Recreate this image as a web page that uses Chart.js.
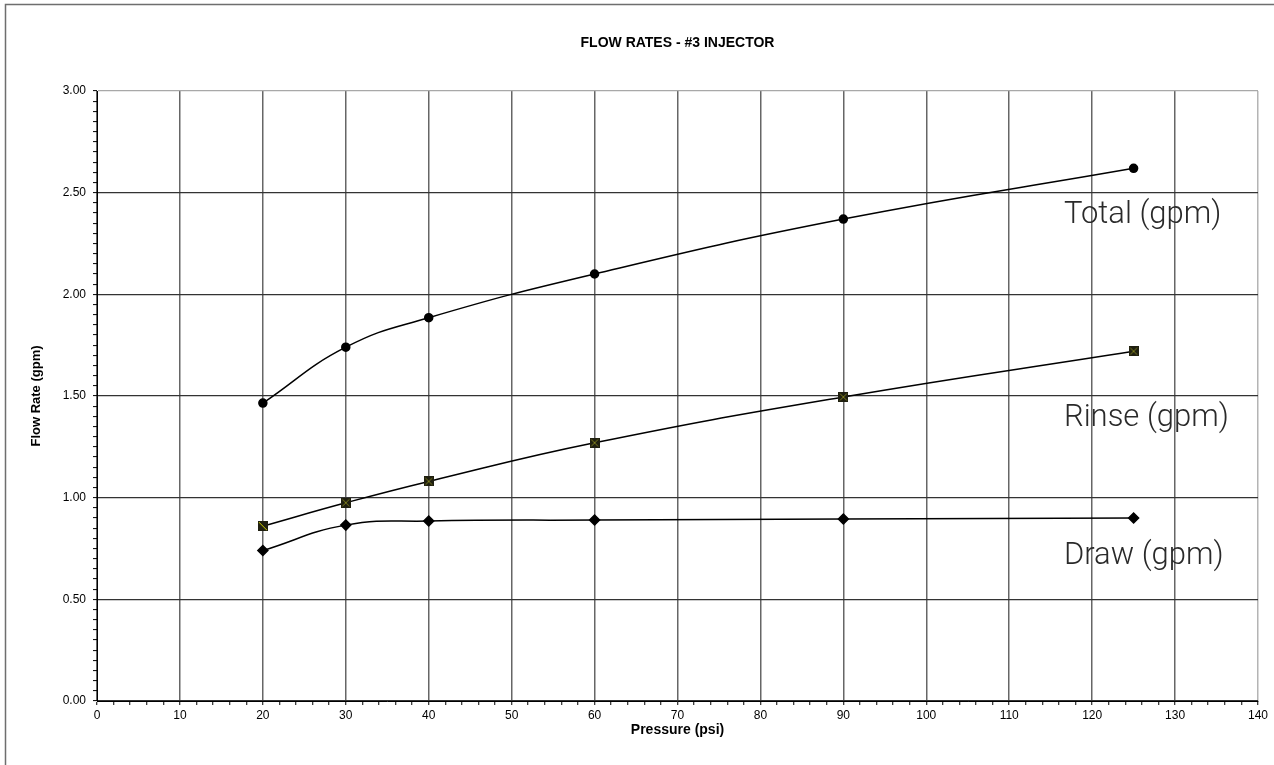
<!DOCTYPE html>
<html>
<head>
<meta charset="utf-8">
<title>Flow Rates - #3 Injector</title>
<script src="https://cdn.jsdelivr.net/npm/chart.js@4/dist/chart.umd.min.js"></script>
<style>
  html, body { margin: 0; padding: 0; background: #fff; }
  #wrap { position: relative; width: 1274px; height: 765px; }
</style>
</head>
<body>
<div id="wrap"><canvas id="flowChart" width="1274" height="765"></canvas></div>
<script>
// pressure (psi) readings
var pressure = [20, 30, 40, 60, 90, 125];
// flow rates (gpm)
var totalFlow = [1.465, 1.74, 1.885, 2.10, 2.37, 2.62];
var rinseFlow = [0.86, 0.975, 1.08, 1.27, 1.495, 1.72];
var drawFlow  = [0.74, 0.865, 0.885, 0.89, 0.895, 0.90];

var seriesNames = ['Total (gpm)', 'Rinse (gpm)', 'Draw (gpm)'];
var chartTitle = 'FLOW RATES - #3 INJECTOR';

var FONT = "'Liberation Sans', Arial, sans-serif";

// where the series names sit, in axis units
var nameAnchors = [
    {x: 116.6, y: 2.39},
    {x: 116.6, y: 1.39},
    {x: 116.6, y: 0.71}
];

function toXY(xs, ys) {
    var out = [];
    for (var i = 0; i < xs.length; i++) {
        out.push({x: xs[i], y: ys[i]});
    }
    return out;
}

// little dark square with an olive cross, like the excel marker
function rinseMarker(firstOne) {
    var c = document.createElement('canvas');
    c.width = 10; c.height = 10;
    var g = c.getContext('2d');
    g.fillStyle = '#1f1f10';
    g.fillRect(0, 0, 10, 10);
    g.lineWidth = 1;
    g.beginPath();
    if (firstOne) {
        g.strokeStyle = '#d6d600';
        g.moveTo(1, 1); g.lineTo(9, 9);
    } else {
        g.strokeStyle = '#7c7c1c';
        g.moveTo(1.5, 1.5); g.lineTo(8.5, 8.5);
        g.moveTo(8.5, 1.5); g.lineTo(1.5, 8.5);
    }
    g.stroke();
    return c;
}
var rinseStyles = pressure.map(function (p, i) { return rinseMarker(i === 0); });

var frameLines = {
    id: 'frameLines',
    beforeDraw: function (chart) {
        var ctx = chart.ctx;
        ctx.save();
        ctx.strokeStyle = '#6e6e6e';
        ctx.lineWidth = 1.5;
        ctx.beginPath();
        ctx.moveTo(5.5, 765);
        ctx.lineTo(5.5, 4.5);
        ctx.lineTo(1274, 4.5);
        ctx.stroke();
        ctx.restore();
    }
};

// title centred over the plot area, not the whole canvas
var plotTitle = {
    id: 'plotTitle',
    afterDraw: function (chart) {
        var ctx = chart.ctx, a = chart.chartArea;
        ctx.save();
        ctx.font = "bold 14px " + FONT;
        ctx.fillStyle = '#000';
        ctx.textAlign = 'center';
        ctx.textBaseline = 'middle';
        ctx.fillText(chartTitle, (a.left + a.right) / 2, 43);
        ctx.restore();
    }
};

var seriesNameLabels = {
    id: 'seriesNameLabels',
    afterDatasetsDraw: function (chart) {
        var ctx = chart.ctx;
        var xs = chart.scales.x, ys = chart.scales.y;
        ctx.save();
        ctx.font = "300 31px Roboto, 'Open Sans', sans-serif";
        ctx.fillStyle = '#2a2a2a';
        ctx.textAlign = 'left';
        ctx.textBaseline = 'middle';
        for (var i = 0; i < seriesNames.length; i++) {
            ctx.fillText(seriesNames[i], xs.getPixelForValue(nameAnchors[i].x), ys.getPixelForValue(nameAnchors[i].y));
        }
        ctx.restore();
    }
};

var lineBase = {
    borderColor: '#000',
    borderWidth: 1.5,
    tension: 0.45,
    fill: false,
    pointBorderColor: '#000',
    pointBackgroundColor: '#000'
};

var ctx = document.getElementById('flowChart').getContext('2d');
var flowChart = new Chart(ctx, {
    type: 'line',
    data: {
        datasets: [
            Object.assign({}, lineBase, {
                label: seriesNames[0],
                data: toXY(pressure, totalFlow),
                pointStyle: 'circle',
                pointRadius: 4
            }),
            Object.assign({}, lineBase, {
                label: seriesNames[1],
                data: toXY(pressure, rinseFlow),
                pointStyle: rinseStyles,
                pointRadius: 5
            }),
            Object.assign({}, lineBase, {
                label: seriesNames[2],
                data: toXY(pressure, drawFlow),
                pointStyle: 'rectRot',
                pointRadius: 5
            })
        ]
    },
    options: {
        responsive: false,
        animation: false,
        layout: { padding: { left: 25, right: 16, top: 91, bottom: 26 } },
        plugins: {
            legend: { display: false },
            tooltip: { enabled: false },
            title: { display: false }
        },
        scales: {
            x: {
                type: 'linear',
                min: 0,
                max: 140,
                afterFit: function (s) { s.height = 38; },
                border: { color: '#000', width: 1 },
                grid: {
                    color: function (c) {
                        var v = c.tick ? c.tick.value : 0;
                        if (v === 140) return '#b4b4b4';
                        if (v % 10 === 0) return '#666';
                        return 'rgba(0,0,0,0)';
                    },
                    lineWidth: 1.5,
                    tickColor: '#000',
                    tickLength: 4,
                    tickWidth: 1
                },
                ticks: {
                    stepSize: 2,
                    autoSkip: false,
                    maxRotation: 0,
                    padding: 3,
                    color: '#000',
                    font: { family: FONT, size: 12 },
                    callback: function (v) { return v % 10 === 0 ? String(v) : ''; }
                },
                title: {
                    display: true,
                    text: 'Pressure (psi)',
                    color: '#000',
                    font: { family: FONT, size: 14, weight: 'bold' },
                    padding: 0
                }
            },
            y: {
                type: 'linear',
                min: 0,
                max: 3,
                afterFit: function (s) { s.width = 72; },
                border: { color: '#000', width: 1 },
                grid: {
                    color: function (c) {
                        var v = c.tick ? Math.round(c.tick.value * 100) : 0;
                        if (v === 300) return '#a8a8a8';
                        if (v % 50 === 0) return '#333';
                        return 'rgba(0,0,0,0)';
                    },
                    lineWidth: 1.2,
                    tickColor: '#000',
                    tickLength: 4,
                    tickWidth: 1
                },
                ticks: {
                    stepSize: 0.05,
                    autoSkip: false,
                    padding: 7,
                    color: '#000',
                    font: { family: FONT, size: 12 },
                    callback: function (v) {
                        return Math.round(v * 100) % 50 === 0 ? v.toFixed(2) : '';
                    }
                },
                title: {
                    display: true,
                    text: 'Flow Rate (gpm)',
                    color: '#000',
                    font: { family: FONT, size: 13, weight: 'bold' },
                    padding: { top: 4, bottom: 0 }
                }
            }
        }
    },
    plugins: [frameLines, plotTitle, seriesNameLabels]
});
</script>
</body>
</html>
